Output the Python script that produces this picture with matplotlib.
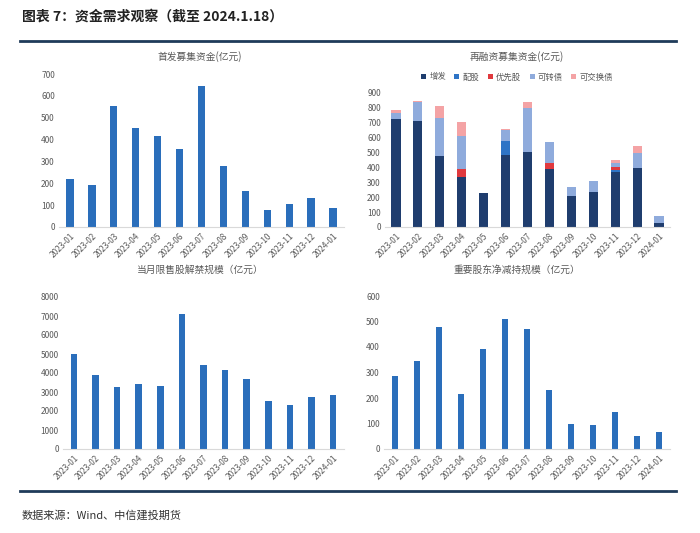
import matplotlib.pyplot as plt
import numpy as np

plt.rcParams["font.family"] = ["Noto Sans CJK SC", "DejaVu Sans"]

months = ["2023-01", "2023-02", "2023-03", "2023-04", "2023-05", "2023-06", "2023-07",
          "2023-08", "2023-09", "2023-10", "2023-11", "2023-12", "2024-01"]

ipo = [220, 193, 552, 454, 418, 358, 647, 280, 166, 79, 106, 132, 85]

refi_names = ["增发", "配股", "优先股", "可转债", "可交换债"]
refi_zengfa = [726, 712, 476, 334, 229, 482, 503, 392, 207, 236, 370, 394, 29]
refi_peigu = [0, 0, 0, 0, 0, 95, 0, 0, 0, 0, 10, 0, 0]
refi_youxian = [0, 0, 0, 58, 0, 0, 0, 36, 0, 0, 25, 0, 0]
refi_kezhuan = [37, 130, 256, 216, 0, 76, 298, 146, 65, 70, 27, 101, 45]
refi_kejiaohuan = [20, 3, 81, 97, 0, 8, 40, 0, 0, 0, 16, 50, 0]

unlock = [4990, 3886, 3238, 3396, 3326, 7125, 4447, 4150, 3676, 2503, 2328, 2713, 2818]

reduce = [288, 346, 477, 217, 393, 511, 472, 231, 99, 95, 144, 50, 68]

W, H = 700, 533
BLUE = "#2a6ebb"
GRAY = "#595959"
refi_colors = ["#1f3d6e", "#2e74c6", "#e0393e", "#8fabdc", "#f4a3a5"]

fig = plt.figure(figsize=(W / 100, H / 100), dpi=100)


def px_axes(x0, x1, y_top, y_bot):
    return fig.add_axes([x0 / W, 1 - y_bot / H, (x1 - x0) / W, (y_bot - y_top) / H])


def style(ax, ymax, step):
    ax.set_xlim(-0.5, len(months) - 0.5)
    ax.set_ylim(0, ymax)
    ax.set_yticks(np.arange(0, ymax + 1, step))
    ax.set_xticks(range(len(months)))
    ax.set_xticklabels(months, rotation=45, ha="right", rotation_mode="anchor")
    for s in ["top", "right", "left"]:
        ax.spines[s].set_visible(False)
    ax.spines["bottom"].set_color("#d9d9d9")
    ax.tick_params(axis="both", length=0, labelsize=6, labelcolor=GRAY, pad=3)


x = np.arange(len(months))

# 首发募集资金
ax1 = px_axes(59, 344, 74, 227)
ax1.bar(x, ipo, width=0.33, color=BLUE)
style(ax1, 700, 100)
fig.text(200 / W, 1 - 57 / H, "首发募集资金(亿元)", ha="center", va="center", fontsize=7, color=GRAY)

# 再融资募集资金
ax2 = px_axes(385, 670, 93, 227)
bottom = np.zeros(len(months))
for name, vals, c in zip(refi_names,
                         [refi_zengfa, refi_peigu, refi_youxian, refi_kezhuan, refi_kejiaohuan],
                         refi_colors):
    ax2.bar(x, vals, width=0.42, bottom=bottom, color=c, label=name)
    bottom += np.array(vals)
style(ax2, 900, 100)
fig.text(517 / W, 1 - 57 / H, "再融资募集资金(亿元)", ha="center", va="center", fontsize=7, color=GRAY)
fig.legend(*ax2.get_legend_handles_labels(), loc="center", bbox_to_anchor=(517 / W, 1 - 77 / H),
           ncol=5, frameon=False, fontsize=6, labelcolor=GRAY, handlelength=0.6, handleheight=0.6,
           handletextpad=0.4, columnspacing=1.0)

# 当月限售股解禁规模
ax3 = px_axes(63, 344, 297, 449)
ax3.bar(x, unlock, width=0.3, color=BLUE)
style(ax3, 8000, 1000)
fig.text(200 / W, 1 - 270 / H, "当月限售股解禁规模（亿元）", ha="center", va="center", fontsize=7, color=GRAY)

# 重要股东净减持规模
ax4 = px_axes(384, 670, 296, 449)
ax4.bar(x, reduce, width=0.3, color=BLUE)
style(ax4, 600, 100)
fig.text(517 / W, 1 - 270 / H, "重要股东净减持规模（亿元）", ha="center", va="center", fontsize=7, color=GRAY)

# header / footer
fig.text(22 / W, 1 - 17 / H, "图表 7：资金需求观察（截至 2024.1.18）", ha="left", va="center",
         fontsize=10, fontweight="bold", color="#222222")
fig.add_artist(plt.Line2D([20 / W, 676 / W], [1 - 41 / H] * 2, color="#1f3b5a", lw=2))
fig.add_artist(plt.Line2D([20 / W, 676 / W], [1 - 491 / H] * 2, color="#1f3b5a", lw=2))
fig.text(22 / W, 1 - 515 / H, "数据来源：Wind、中信建投期货", ha="left", va="center",
         fontsize=8, style="italic", color="#333333")

fig.savefig("out.png", dpi=100)
